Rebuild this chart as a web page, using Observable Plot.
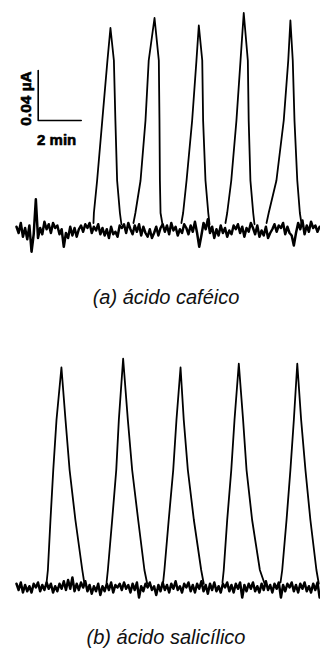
<!DOCTYPE html>
<html><head><meta charset="utf-8">
<script src="https://cdn.jsdelivr.net/npm/d3@7"></script>
<script src="https://cdn.jsdelivr.net/npm/@observablehq/plot@0.6"></script>
<style>
body{margin:0;background:#fff;width:320px;overflow:hidden;}
.cap{font-family:"Liberation Sans",Arial,Helvetica,sans-serif;font-style:italic;font-size:20px;line-height:20px;text-align:center;color:#111;padding-left:12px;box-sizing:border-box;width:320px;}
#capA{height:50px;padding-top:17px;}
#capB{height:40px;padding-top:17px;}
svg{display:block;}
</style></head><body>
<div id="a"></div><div class="cap" id="capA"></div><div id="b"></div><div class="cap" id="capB"></div>
<script>
// ---- Data (time in min, current in µA) ----
const captions = ["(a) ácido caféico", "(b) ácido salicílico"];

// baseline noise, sampled every 0.1 min, in nA
const baselineA_nA = [
  3,-2,6,-5,2,-7,4,-17,-3,25,
  -6,2,-3,7,1,5,-2,6,2,4,
  -3,1,-13,-2,-6,3,-4,2,-5,1,
  4,-1,5,2,6,-2,3,0,5,-3,
  2,-4,1,-6,3,-3,-1,-5,4,2,
  5,-2,6,1,-3,4,-1,5,-4,3,
  -2,-5,1,-6,-2,3,-4,2,5,-1,
  4,-3,6,0,3,-4,1,-2,5,2,
  -3,4,-1,7,-2,-13,-4,6,1,9,
  -2,3,-6,1,-4,4,-2,2,-5,0,
  -3,4,1,5,-2,3,-5,2,-1,6,
  2,-3,4,-5,0,-4,3,-6,-2,1,
  5,-1,4,2,6,-3,3,-2,-4,-12,
  -2,6,1,8,-3,4,-1,7,2,4,
  -1,3
];
const baselineB_nA = [
  3,-2,4,-4,2,-3,1,-4,3,0,
  4,-3,2,-2,4,-1,3,-4,1,-3,
  3,-1,5,-2,6,-1,8,-3,3,-2,
  4,0,5,-3,2,-5,1,-3,3,-6,
  1,-3,3,-2,4,-4,2,0,3,-2,
  4,-1,2,-4,3,-2,4,-8,1,-3,
  3,0,4,-2,1,-6,2,-3,4,-2,
  2,-4,3,-1,5,-2,1,-4,3,0,
  4,-3,2,-4,3,-1,5,-3,2,-5,
  3,-2,4,-3,1,-4,3,0,4,-3,
  2,-4,3,-1,4,-8,2,-3,3,-1,
  4,-3,1,-4,3,-2,5,-2,2,-4,
  3,-1,4,-8,2,-3,3,0,4,-3,
  2,-4,3,-1,4,-3,1,-4,3,-2,
  4,-8
];

// peak outlines (vertices)
const peaksA_t = [
  [3.58,3.60,3.75,3.99,4.23,4.37,4.53,4.60,4.68,4.81,4.88],
  [5.44,5.53,5.77,6.00,6.15,6.42,6.62,6.65,6.67,6.70,6.79],
  [7.67,7.75,7.91,8.17,8.37,8.48,8.64,8.68,8.79,8.92,8.98],
  [9.72,9.80,9.99,10.23,10.42,10.57,10.76,10.80,10.88,11.01,11.07],
  [11.63,11.73,12.09,12.43,12.64,12.74,12.85,12.93,13.06,13.18,13.26]
];
const peaksA_i = [
  [0.006,0.014,0.040,0.088,0.136,0.162,0.136,0.088,0.040,0.014,0.005],
  [0.006,0.014,0.040,0.088,0.136,0.170,0.136,0.088,0.040,0.014,0.005],
  [0.006,0.014,0.040,0.088,0.136,0.164,0.136,0.088,0.040,0.014,0.005],
  [0.006,0.014,0.040,0.088,0.136,0.174,0.136,0.088,0.040,0.014,0.005],
  [0.006,0.014,0.040,0.088,0.136,0.168,0.136,0.088,0.040,0.014,0.005]
];
const peaksB_t = [
  [1.40,1.46,1.58,1.71,1.86,2.09,2.28,2.47,2.74,3.06,3.16],
  [4.19,4.25,4.45,4.64,4.76,4.96,5.18,5.38,5.66,5.95,6.08],
  [6.82,6.88,7.08,7.29,7.44,7.63,7.78,7.97,8.25,8.59,8.71],
  [9.58,9.64,9.80,9.99,10.14,10.34,10.54,10.70,10.96,11.32,11.54],
  [12.28,12.36,12.56,12.74,12.90,13.06,13.24,13.44,13.67,13.95,14.06]
];
const peaksB_i = [
  [0.004,0.014,0.054,0.094,0.134,0.176,0.134,0.094,0.054,0.014,0.003],
  [0.004,0.014,0.054,0.094,0.134,0.183,0.134,0.094,0.054,0.014,0.003],
  [0.004,0.014,0.054,0.094,0.134,0.176,0.134,0.094,0.054,0.014,0.003],
  [0.004,0.014,0.054,0.094,0.134,0.179,0.134,0.094,0.054,0.014,0.003],
  [0.004,0.014,0.054,0.094,0.134,0.179,0.134,0.094,0.054,0.014,0.003]
];

// scale bar (panel a)
const scaleBarOrigin = {t: 1.01, i: 0.088};
const scaleBarTime = 2;      // min
const scaleBarCurrent = 0.04; // µA
const scaleBarLabels = ["2 min", "0.04 µA"];

// ---- Drawing ----
const sampleStep = 0.1;
const xDomain = [-0.744, 14.14];
const font = "Liberation Sans, Arial, sans-serif";

function panel(baseNA, pT, pI, height, yDomain, withBar) {
  const base = baseNA.map((v, k) => ({t: +(k * sampleStep).toFixed(2), i: v / 1000}));
  const peaks = pT.flatMap((ts, j) => ts.map((t, k) => ({t, i: pI[j][k], id: j})));
  const marks = [
    Plot.line(base, {x: "t", y: "i", stroke: "#000", strokeWidth: 2.5, strokeLinejoin: "round"}),
    Plot.line(peaks, {x: "t", y: "i", z: "id", stroke: "#000", strokeWidth: 1.8, strokeLinejoin: "round"})
  ];
  if (withBar) {
    const o = scaleBarOrigin;
    const bar = [
      {t: o.t, i: o.i + scaleBarCurrent},
      {t: o.t, i: o.i},
      {t: o.t + scaleBarTime, i: o.i}
    ];
    marks.push(Plot.line(bar, {x: "t", y: "i", stroke: "#000", strokeWidth: 1.6}));
    marks.push(Plot.text([scaleBarLabels[0]], {x: o.t + 0.86, y: o.i - 0.016, text: d => d,
      fontSize: 15, fontWeight: "bold", fill: "#000", stroke: "#000", strokeWidth: 0.6, fontFamily: font}));
    marks.push(Plot.text([scaleBarLabels[1]], {x: o.t - 0.58, y: o.i + 0.0176, text: d => d,
      rotate: -90, fontSize: 15.5, fontWeight: "bold", fill: "#000", stroke: "#000", strokeWidth: 0.6, fontFamily: font}));
  }
  return Plot.plot({
    width: 320, height, margin: 0,
    x: {domain: xDomain, range: [0, 320], axis: null},
    y: {domain: yDomain, range: [height, 0], axis: null},
    marks
  });
}

document.getElementById("a").append(panel(baselineA_nA, peaksA_t, peaksA_i, 270, [-0.032, 0.184], true));
document.getElementById("b").append(panel(baselineB_nA, peaksB_t, peaksB_i, 290, [-0.0184, 0.2136], false));
document.getElementById("capA").textContent = captions[0];
document.getElementById("capB").textContent = captions[1];
</script></body></html>
